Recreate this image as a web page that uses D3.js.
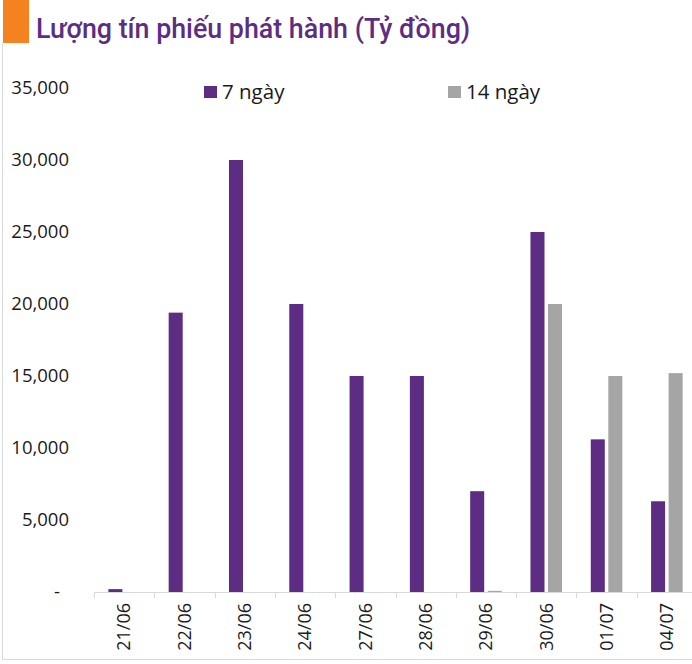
<!DOCTYPE html>
<html>
<head>
<meta charset="utf-8">
<script src="https://cdn.jsdelivr.net/npm/d3@7"></script>
<style>
  body { margin: 0; background: #fff; }
  svg { display: block; }
</style>
</head>
<body>
<script>
const categories = ["21/06", "22/06", "23/06", "24/06", "27/06", "28/06", "29/06", "30/06", "01/07", "04/07"];
const days7 = [200, 19400, 30000, 20000, 15000, 15000, 7000, 25000, 10600, 6300];
const days14 = [0, 0, 0, 0, 0, 0, 80, 20000, 15000, 15200];
const seriesNames = ["7 ngày", "14 ngày"];
const yTicks = [0, 5000, 10000, 15000, 20000, 25000, 30000, 35000];

const width = 692, height = 664;
const colors = ["#5c2d83", "#a5a5a5"];

const svg = d3.select("body").append("svg")
  .attr("width", width)
  .attr("height", height);

// title block
svg.append("rect").attr("x", 3).attr("y", 0).attr("width", 26).attr("height", 43).attr("fill", "#f58220");
svg.append("text")
  .attr("x", 36).attr("y", 38)
  .attr("font-family", "Roboto")
  .attr("font-weight", 500)
  .attr("font-size", 26.8)
  .attr("fill", "#5c2d83")
  .text("Lượng tín phiếu phát hành (Tỷ đồng)");

// frame
svg.append("path")
  .attr("d", `M2.5,43V659.5H${width}`)
  .attr("fill", "none")
  .attr("stroke", "#d9d9d9");

const x = d3.scaleBand().domain(categories).range([94, 94 + 60.3 * categories.length]);
const x1 = d3.scaleBand().domain(seriesNames).range([0, x.bandwidth()]).paddingInner(0.2).paddingOuter(0.82);
const y = d3.scaleLinear().domain([0, 35000]).range([592, 88]);

const rows = categories.map((c, i) => ({ cat: c, values: [days7[i], days14[i]] }));

// y labels
const fmt = d3.format(",");
svg.append("g").selectAll("text")
  .data(yTicks)
  .join("text")
  .attr("x", d => d === 0 ? 60 : 69)
  .attr("y", d => y(d))
  .attr("dy", "0.35em")
  .attr("text-anchor", "end")
  .attr("font-family", "Open Sans")
  .attr("font-size", 18.5)
  .attr("fill", "#1a1a1a")
  .text(d => d === 0 ? "-" : fmt(d));

// bars
svg.append("g").selectAll("g")
  .data(rows)
  .join("g")
  .attr("transform", d => `translate(${x(d.cat)},0)`)
  .selectAll("rect")
  .data(d => d.values.map((v, k) => ({ key: seriesNames[k], v, k })))
  .join("rect")
  .attr("x", d => x1(d.key))
  .attr("width", x1.bandwidth())
  .attr("y", d => y(d.v))
  .attr("height", d => y(0) - y(d.v))
  .attr("fill", d => colors[d.k]);

// x axis
const axisY = 592;
const ax = svg.append("g");
ax.append("line")
  .attr("x1", x.range()[0]).attr("x2", x.range()[1])
  .attr("y1", axisY + 0.5).attr("y2", axisY + 0.5)
  .attr("stroke", "#d9d9d9");
ax.selectAll("line.tick")
  .data(categories.map(c => x(c)).concat([x.range()[1]]))
  .join("line")
  .attr("class", "tick")
  .attr("x1", d => Math.round(d) + 0.5).attr("x2", d => Math.round(d) + 0.5)
  .attr("y1", axisY).attr("y2", axisY + 6)
  .attr("stroke", "#d9d9d9");
ax.selectAll("text")
  .data(categories)
  .join("text")
  .attr("transform", d => `translate(${x(d) + x.bandwidth() / 2},603) rotate(-90)`)
  .attr("text-anchor", "end")
  .attr("dy", "0.35em")
  .attr("font-family", "Open Sans")
  .attr("font-size", 18)
  .attr("fill", "#1a1a1a")
  .text(d => d);

// legend
const legendX = [204, 448];
const lg = svg.append("g").selectAll("g")
  .data(seriesNames)
  .join("g")
  .attr("transform", (d, i) => `translate(${legendX[i]},86)`);
lg.append("rect").attr("width", 13).attr("height", 12).attr("fill", (d, i) => colors[i]);
lg.append("text")
  .attr("x", 18).attr("y", 6)
  .attr("dy", "0.35em")
  .attr("font-family", "Open Sans")
  .attr("font-size", 20.5)
  .attr("fill", "#1a1a1a")
  .text(d => d);
</script>
</body>
</html>
